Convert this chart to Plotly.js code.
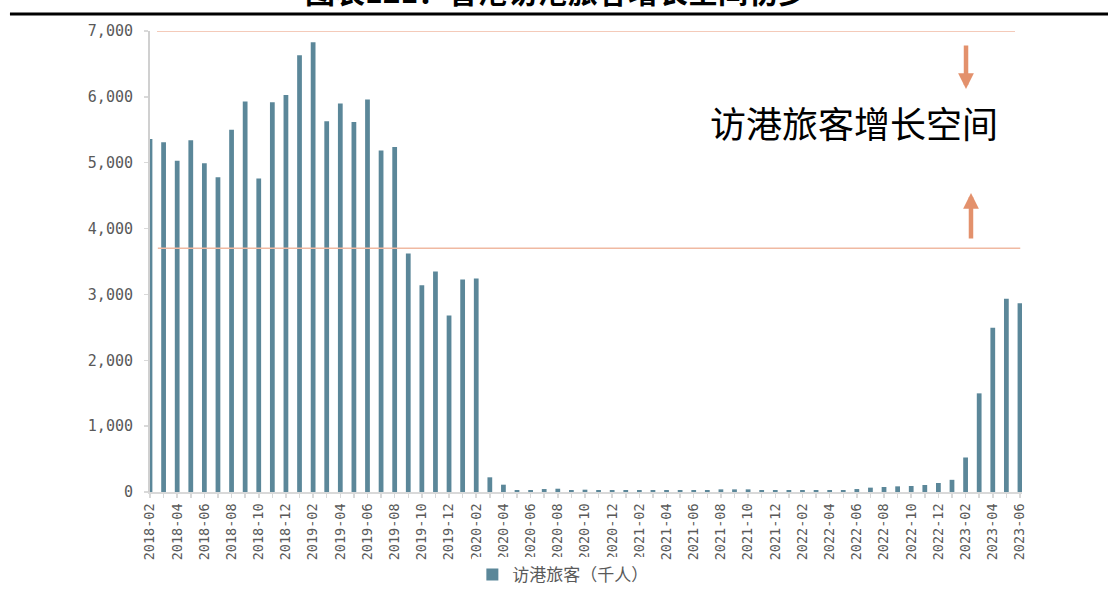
<!DOCTYPE html>
<html>
<head>
<meta charset="utf-8">
<script src="https://cdn.plot.ly/plotly-3.0.1.min.js"></script>
<style>
  html, body { margin: 0; padding: 0; background: #fff; }
  #chart { width: 1108px; height: 590px; }
</style>
</head>
<body>
<div id="chart"></div>
<script>
// Monthly visitor arrivals to Hong Kong, thousands of people
const months = [
  "2018-02","2018-03","2018-04","2018-05","2018-06","2018-07","2018-08","2018-09","2018-10","2018-11","2018-12",
  "2019-01","2019-02","2019-03","2019-04","2019-05","2019-06","2019-07","2019-08","2019-09","2019-10","2019-11","2019-12",
  "2020-01","2020-02","2020-03","2020-04","2020-05","2020-06","2020-07","2020-08","2020-09","2020-10","2020-11","2020-12",
  "2021-01","2021-02","2021-03","2021-04","2021-05","2021-06","2021-07","2021-08","2021-09","2021-10","2021-11","2021-12",
  "2022-01","2022-02","2022-03","2022-04","2022-05","2022-06","2022-07","2022-08","2022-09","2022-10","2022-11","2022-12",
  "2023-01","2023-02","2023-03","2023-04","2023-05","2023-06"
];

const visitors = [
  5360, 5310, 5030, 5340, 4990, 4780, 5500, 5930, 4760, 5920, 6030,
  6630, 6830, 5630, 5900, 5620, 5960, 5185, 5240, 3620, 3140, 3350, 2680,
  3225, 3240, 223, 111, 30, 30, 45, 50, 30, 35, 30, 30,
  30, 30, 30, 30, 30, 30, 30, 40, 40, 40, 30, 30,
  30, 30, 30, 30, 30, 45, 66, 76, 86, 91, 106, 137,
  185, 524, 1498, 2495, 2936, 2865
];

// Every other month carries a label; all months get a tick
const tickLabels = months.map((m, i) => (i % 2 === 0 ? m : ""));

const yTicks = [0, 1000, 2000, 3000, 4000, 5000, 6000, 7000];
const yTickLabels = ["0", "1,000", "2,000", "3,000", "4,000", "5,000", "6,000", "7,000"];

// Pre-pandemic peak level and current recovery level bracketing the growth room
const peakLevel = 7000;
const recoveryLevel = 3700;

const seriesName = "访港旅客（千人）";
const chartTitle = "图表121：香港访港旅客增长空间初步";
const roomLabel = "访港旅客增长空间";

const barColor = "#5b8799";
const guideColor = "#f0b9a2";
const arrowColor = "#e3916c";
const tickColor = "#595959";

const trace = {
  type: "bar",
  x: months,
  y: visitors,
  name: seriesName,
  width: 0.35,
  marker: { color: barColor },
  showlegend: true,
  hoverinfo: "x+y"
};

const layout = {
  width: 1108,
  height: 590,
  margin: { l: 150, r: 86, t: 31, b: 98, autoexpand: false },
  paper_bgcolor: "#ffffff",
  plot_bgcolor: "#ffffff",
  font: { family: "'Noto Sans CJK SC', 'DejaVu Sans', sans-serif", color: tickColor },
  showlegend: true,
  legend: {
    orientation: "h",
    xref: "container", yref: "container",
    x: 0.508, xanchor: "center",
    y: 0.0254, yanchor: "middle",
    font: { size: 17, color: tickColor, family: "'Noto Sans CJK SC', sans-serif" },
    itemwidth: 30
  },
  xaxis: {
    type: "category",
    range: [0, 64.15],
    tickmode: "array",
    tickvals: months,
    ticktext: tickLabels,
    tickangle: -90,
    ticks: "outside",
    ticklen: 4,
    tickwidth: 1.5,
    tickcolor: "#d9d9d9",
    showline: true,
    linecolor: "#d9d9d9",
    linewidth: 2,
    showgrid: false,
    zeroline: false,
    tickfont: { family: "'DejaVu Sans Mono', monospace", size: 13.5, color: tickColor }
  },
  yaxis: {
    range: [0, 7000],
    tickmode: "array",
    tickvals: yTicks,
    ticktext: yTickLabels,
    ticks: "outside",
    ticklen: 4,
    tickwidth: 1.5,
    tickcolor: "#d9d9d9",
    showline: true,
    linecolor: "#d0d0d0",
    linewidth: 2,
    showgrid: false,
    zeroline: false,
    ticklabelstandoff: 8,
    tickfont: { family: "'DejaVu Sans Mono', monospace", size: 15, color: tickColor }
  },
  shapes: [
    // heavy rule under the page title
    { type: "line", xref: "paper", yref: "paper", x0: -0.1606, x1: 1.1, y0: 1.0369, y1: 1.0369,
      line: { color: "#000000", width: 3 } },
    // guide lines marking the two levels
    { type: "line", xref: "paper", yref: "y", x0: 0.008, x1: 0.992, y0: peakLevel, y1: peakLevel,
      line: { color: guideColor, width: 1.5 } },
    { type: "line", xref: "paper", yref: "y", x0: 0.009, x1: 0.998, y0: recoveryLevel, y1: recoveryLevel,
      line: { color: guideColor, width: 1.5 } }
  ],
  annotations: [
    { text: "<b>" + chartTitle + "</b>", xref: "paper", yref: "paper", x: 0.4663, y: 1.089,
      xanchor: "center", yanchor: "middle", showarrow: false,
      font: { size: 30, color: "#000000", family: "'Noto Sans CJK SC', sans-serif" } },
    { text: roomLabel, xref: "paper", yref: "paper", x: 0.807, y: 0.802,
      xanchor: "center", yanchor: "middle", showarrow: false,
      font: { size: 36, color: "#000000", family: "'Noto Sans CJK SC', sans-serif" } },
    // downward arrow from the peak line
    { text: "", xref: "paper", yref: "paper", x: 0.9358, y: 0.8742, ax: 0, ay: -45,
      showarrow: true, arrowhead: 2, arrowsize: 0.7, arrowwidth: 4.5, arrowcolor: arrowColor },
    // upward arrow from the recovery line
    { text: "", xref: "paper", yref: "paper", x: 0.9415, y: 0.6486, ax: 0, ay: 47,
      showarrow: true, arrowhead: 2, arrowsize: 0.7, arrowwidth: 4.5, arrowcolor: arrowColor }
  ]
};

Plotly.newPlot("chart", [trace], layout, { displayModeBar: false, staticPlot: true });
</script>
</body>
</html>
